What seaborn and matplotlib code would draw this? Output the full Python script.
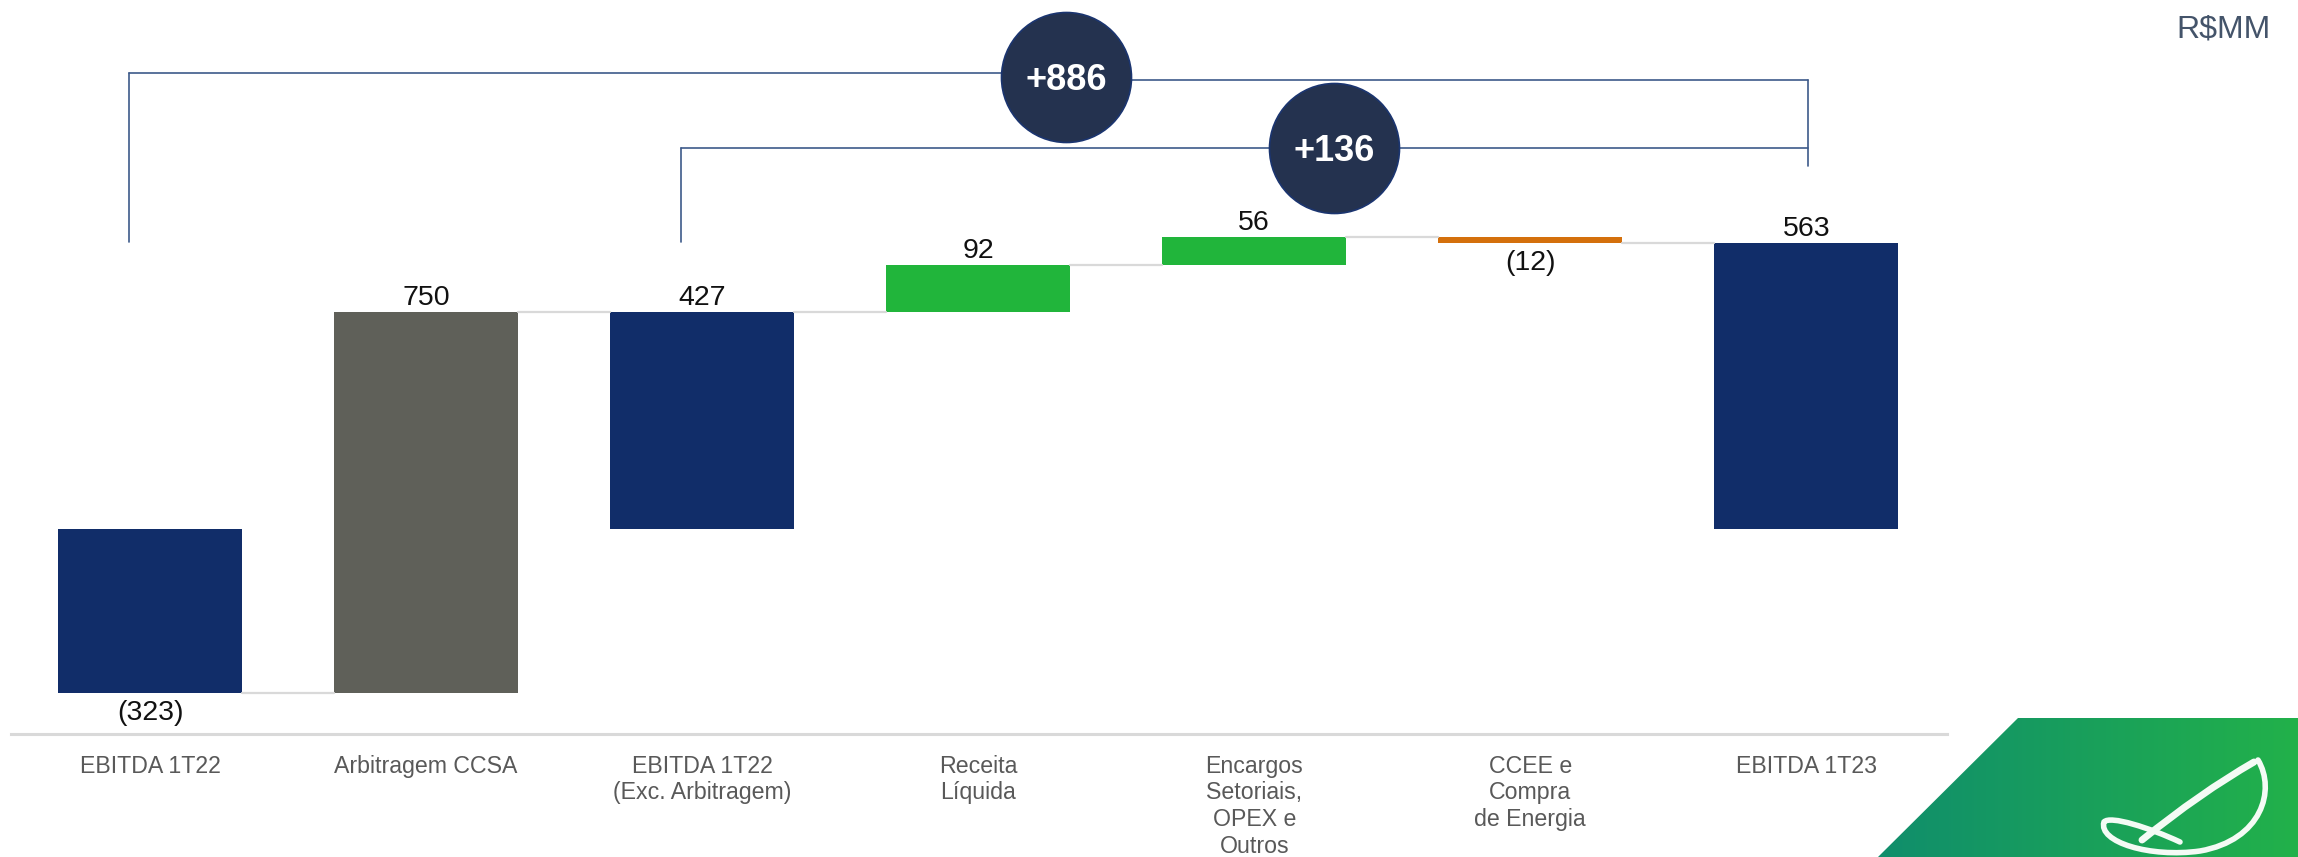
import matplotlib
matplotlib.use("Agg")
import matplotlib.pyplot as plt
import numpy as np
import pandas as pd
import seaborn as sns
from matplotlib.patches import Polygon, PathPatch
from matplotlib.path import Path

# data
categories = ["EBITDA 1T22", "Arbitragem CCSA", "EBITDA 1T22\n(Exc. Arbitragem)",
              "Receita\nLíquida", "Encargos\nSetoriais,\nOPEX e\nOutros",
              "CCEE e\nCompra\nde Energia", "EBITDA 1T23"]
values = [-323, 750, 427, 92, 56, -12, 563]
steps = ["total", "delta", "total", "delta", "delta", "delta", "total"]
value_labels = ["(323)", "750", "427", "92", "56", "(12)", "563"]
bar_colors = ["#112d69", "#5f6059", "#112d69", "#21b53b", "#21b53b", "#d4700c", "#112d69"]
bracket_labels = ["+886", "+136"]
bracket_from = [0, 2]
bracket_to = [6, 6]
unit_label = "R$MM"

W, H = 2298, 857

sns.set_style("white")
plt.rcParams["font.family"] = ["Liberation Sans", "DejaVu Sans"]

# waterfall bases
bases, heights, ends = [], [], []
running = 0
for v, s in zip(values, steps):
    if s == "total":
        bases.append(0)
        running = v
    else:
        bases.append(running)
        running += v
    heights.append(v)
    ends.append(running)

df = pd.DataFrame({"cat": categories, "height": heights})

fig = plt.figure(figsize=(W / 100, H / 100), dpi=100)
ax = fig.add_axes([11 / W, 1 - 734 / H, 1936 / W, 734 / H])

sns.barplot(data=df, x="cat", y="height", hue="cat", palette=bar_colors,
            width=0.667, errorbar=None, legend=False, saturation=1, ax=ax)

for patch, b in zip(ax.patches, bases):
    patch.set_y(b)
    patch.set_edgecolor("none")

ax.set_xlim(-0.504, 6.51)
ax.set_ylim(-403.4, 1041)

# connectors
half = 0.667 / 2
for i in range(len(values) - 1):
    ax.plot([i + half, i + 1 - half], [ends[i], ends[i]], color="#d9d9d9", lw=1.6, zorder=1)

# value labels
for i, (b, h, lab) in enumerate(zip(bases, heights, value_labels)):
    if h >= 0:
        ax.annotate(lab, (i, b + h), xytext=(0, 5), textcoords="offset points",
                    ha="center", va="baseline", fontsize=20.5, color="#111111")
    else:
        ax.annotate(lab, (i, b + h), xytext=(0, -5), textcoords="offset points",
                    ha="center", va="top", fontsize=20.5, color="#111111")

# brackets with bubbles
line_c = "#3d5a8a"
left_y = [897, 750]
right_y = [883, 750]
bubble_x = [3.32, 4.29]
for lab, a, b, ly, ry, bx in zip(bracket_labels, bracket_from, bracket_to, left_y, right_y, bubble_x):
    xl = a - 0.075
    xr = b + 0.005
    ax.plot([xl, xl], [565, ly], color=line_c, lw=1.2, zorder=2, clip_on=False)
    ax.plot([xl, bx], [ly, ly], color=line_c, lw=1.2, zorder=2, clip_on=False)
    ax.plot([bx, xr], [ry, ry], color=line_c, lw=1.2, zorder=2, clip_on=False)
    ax.scatter([bx], [(ly + ry) / 2], s=8761, color="#24324f", edgecolor="#1b3570",
               linewidth=1.2, zorder=5, clip_on=False)
    ax.text(bx, (ly + ry) / 2, lab, ha="center", va="center_baseline", fontsize=26,
            fontweight="bold", color="white", zorder=6)
ax.plot([6.005, 6.005], [714, 883], color=line_c, lw=1.2, zorder=2, clip_on=False)

# axes styling
for sp in ["top", "right", "left"]:
    ax.spines[sp].set_visible(False)
ax.spines["bottom"].set_color("#d9d9d9")
ax.spines["bottom"].set_linewidth(2.2)
ax.set_yticks([])
ax.set_xlabel("")
ax.set_ylabel("")
ax.tick_params(axis="x", length=0, pad=15, labelsize=16.7, labelcolor="#595959")

fig.text(2271 / W, 1 - 14 / H, unit_label, ha="right", va="top", fontsize=23, color="#44546a")

# corner logo
lax = fig.add_axes([0, 0, 1, 1], zorder=-1)
lax.set_axis_off()
grad = np.linspace(0, 1, 256)
c0 = np.array([0x10, 0x8e, 0x6c]) / 255
c1 = np.array([0x22, 0xb1, 0x4a]) / 255
img = (c0[None, :] * (1 - grad[:, None]) + c1[None, :] * grad[:, None])[None, :, :]
poly = Polygon([(2018, 718), (W, 718), (W, H), (1878, H)], closed=True,
               facecolor="none", edgecolor="none", transform=lax.transData)
lax.add_patch(poly)
im = lax.imshow(img, extent=[1878, W, H, 718], aspect="auto", interpolation="bilinear")
im.set_clip_path(poly)
lax.set_xlim(0, W)
lax.set_ylim(H, 0)

ribbon_a = Path([(2254, 762), (2200, 793), (2142, 840)],
                [Path.MOVETO, Path.CURVE3, Path.CURVE3])
ribbon_b = Path([(2258, 760), (2276, 790), (2262, 840), (2200, 851),
                 (2150, 858), (2098, 842), (2104, 822),
                 (2110, 815), (2150, 828), (2180, 842)],
                [Path.MOVETO, Path.CURVE4, Path.CURVE4, Path.CURVE4,
                 Path.CURVE4, Path.CURVE4, Path.CURVE4,
                 Path.CURVE4, Path.CURVE4, Path.CURVE4])
for p, lw in [(ribbon_a, 5.0), (ribbon_b, 4.0)]:
    lax.add_patch(PathPatch(p, facecolor="none", edgecolor="#f4fbf5", lw=lw, capstyle="round"))

fig.savefig("out.png", dpi=100)
